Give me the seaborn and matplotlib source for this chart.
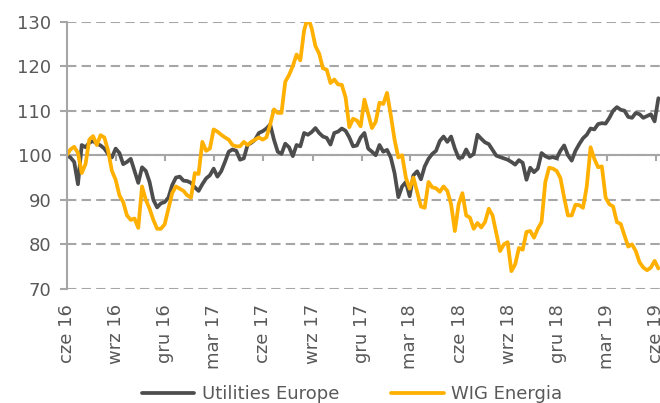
import numpy as np
import pandas as pd
import matplotlib
matplotlib.use('Agg')
import matplotlib.pyplot as plt
import matplotlib.dates as mdates
import seaborn as sns

# tygodniowe notowania, indeks cze 2016 = 100
utilities = [100, 99.5, 98.5, 93.5, 102.3, 101.8, 102.8, 103.2, 102.6, 102.2, 101.5, 100.3, 99.5,
             101.5, 100.5, 98, 98.5, 99.2, 96.5, 93.8, 97.3, 96.5, 94, 90, 88.3,
             89.2, 89.5, 90.5, 93.3, 95, 95.2, 94.3, 94.2, 93.8, 92.8, 92, 93.5, 94.8, 95.5,
             97, 95.2, 96.4, 98.5, 100.8, 101.3, 101, 99, 99.3, 102.3, 102.8, 103.5, 105,
             105.4, 106, 106.9, 103.5, 100.8, 100.3, 102.6, 101.8, 99.8, 102.3, 102, 105, 104.6,
             105.2, 106.1, 105, 104.2, 103.9, 102.4, 105, 105.3, 106, 105.5, 104, 102, 102.2,
             104, 105, 101.5, 100.8, 100, 102.3, 100.8, 101.2, 99.5, 96, 90.6, 93, 94, 90.8,
             95.5, 96.4, 94.6, 97.5, 99.2, 100.3, 101, 103.2, 104.2, 103, 104.2, 101.5, 99.4,
             99.5, 101.3, 99.7, 100.3, 104.6, 103.7, 102.9, 102.5, 101.2, 99.9, 99.6, 99.3, 99,
             98.5, 97.9, 98.9, 98.3, 94.5, 97.2, 96.2, 97, 100.5, 99.8, 99.4, 99.6, 99.3,
             101, 102.2, 100, 98.8, 101, 102.5, 103.8, 104.6, 106, 105.8, 107, 107.2, 107.1,
             108.4, 110, 110.8, 110.2, 110, 108.6, 108.4, 109.5, 109.2, 108.4, 108.8, 109.2, 107.6, 112.8]

wig_energia = [100, 101.3, 101.9, 100.5, 96, 98, 103.5, 104.3, 102.3, 104.5, 104, 101, 96.5,
               94.5, 91, 89.5, 86.5, 85.5, 85.8, 83.7, 93, 90, 88, 85.5, 83.5,
               83.5, 84.5, 88, 91.5, 93, 92.5, 92, 91, 90.5, 96, 95.8, 103, 101, 101.5,
               105.8, 105.3, 104.6, 104, 103.5, 102.3, 102, 102, 103, 102.3, 103, 103.5, 104,
               103.5, 104, 106.9, 110.3, 109.5, 109.5, 116.5, 118, 120, 122.6, 121.3, 128, 131,
               128.5, 124.5, 122.8, 119.5, 119.2, 116.2, 117, 115.9, 115.8, 113, 106.3, 108.2, 107.8,
               106.5, 112.5, 109.3, 106.1, 107.5, 111.8, 111.5, 114, 109, 103.5, 99.5, 100, 95,
               92.5, 95, 91.7, 88.5, 88.2, 94, 92.8, 92.6, 91.8, 93, 92, 89, 83, 89,
               91.5, 86.5, 86, 83.5, 84.8, 83.8, 85, 88, 86.5, 82.5, 78.5, 80, 80.5,
               74, 75.5, 79.2, 78.8, 82.8, 83, 81.5, 83.5, 85, 94, 97.2, 97, 96.5,
               94.9, 90.5, 86.5, 86.5, 88.9, 88.8, 88.2, 93, 101.8, 99.2, 97.3, 97.5, 90.5,
               89, 88.5, 85, 84.6, 82, 79.5, 80, 78.5, 76, 74.8, 74.2, 74.8, 76.3, 74.6]

series_names = ['Utilities Europe', 'WIG Energia']
tick_dates = ['2016-06-01', '2016-09-01', '2016-12-01', '2017-03-01', '2017-06-01', '2017-09-01',
              '2017-12-01', '2018-03-01', '2018-06-01', '2018-09-01', '2018-12-01', '2019-03-01',
              '2019-06-01']
tick_labels = ['cze 16', 'wrz 16', 'gru 16', 'mar 17', 'cze 17', 'wrz 17', 'gru 17', 'mar 18',
               'cze 18', 'wrz 18', 'gru 18', 'mar 19', 'cze 19']

n = len(utilities)
x = mdates.date2num(pd.date_range('2016-06-01', periods=n, freq='7D'))
df = pd.DataFrame({
    'data': np.concatenate([x, x]),
    'wartosc': utilities + wig_energia,
    'seria': [series_names[0]] * n + [series_names[1]] * n,
})

sns.set_theme(style='white')
plt.rcParams['font.family'] = ['DejaVu Sans']
text_col = '#595959'
grid_col = '#a6a6a6'

fig = plt.figure(figsize=(6.6, 4.03), dpi=100)
ax = fig.add_axes([0.101, 0.283, 0.899, 0.6635])
sns.lineplot(data=df, x='data', y='wartosc', hue='seria',
             palette=['#4d4d4d', '#ffb000'], linewidth=2.7, ax=ax)

x0 = mdates.date2num(pd.Timestamp(tick_dates[0]))
ax.set_xlim(x0, x0 + 1102)
ax.set_ylim(70, 130)
ax.set_yticks(range(70, 131, 10))
ax.set_xlabel('')
ax.set_ylabel('')

ax.yaxis.grid(True, color=grid_col, linestyle=(0, (4.5, 2.5)), linewidth=1.5)
ax.set_axisbelow(True)
for s in ['top', 'right']:
    ax.spines[s].set_visible(False)
ax.spines['left'].set_color(grid_col)
ax.spines['left'].set_linewidth(1.5)
ax.spines['bottom'].set_position(('data', 100))
ax.spines['bottom'].set_color(grid_col)
ax.spines['bottom'].set_linewidth(1.5)
ax.spines['bottom'].set_zorder(1)

tick_x = mdates.date2num(pd.to_datetime(tick_dates))
ax.set_xticks(tick_x)
ax.tick_params(axis='x', bottom=True, length=4, width=1.5, color=grid_col, labelbottom=False)
ax.tick_params(axis='y', left=True, length=5, width=1.5, color=grid_col,
               labelsize=13, labelcolor=text_col, pad=6)

sec = ax.secondary_xaxis('bottom')
sec.set_xticks(tick_x, labels=tick_labels)
sec.tick_params(length=0, pad=11, labelsize=13, labelcolor=text_col, labelrotation=90)
sec.spines['bottom'].set_visible(False)

ax.legend_.remove()
handles, labels = ax.get_legend_handles_labels()
fig.legend(handles, labels, loc='center', bbox_to_anchor=(352 / 660, 1 - 394 / 403),
           ncol=2, frameon=False, fontsize=13, labelcolor=text_col,
           handlelength=2.9, handletextpad=0.4, columnspacing=2.9)

fig.savefig('out.png', dpi=100)
